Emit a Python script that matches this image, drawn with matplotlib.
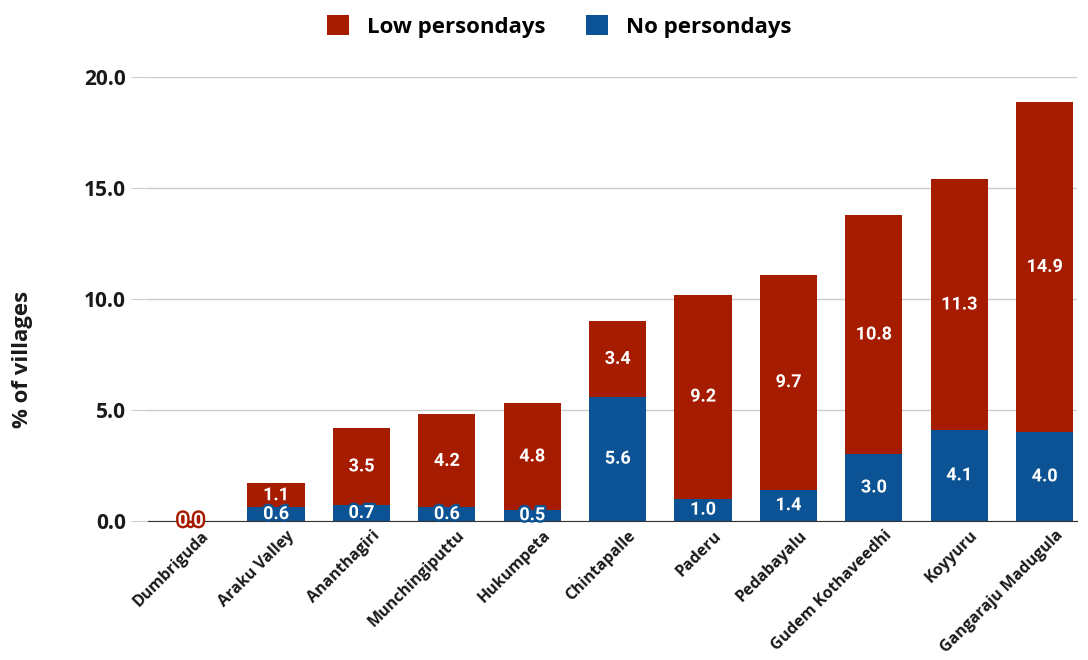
import matplotlib.pyplot as plt
import matplotlib.patheffects as pe
import numpy as np

mandals = ['Dumbriguda', 'Araku Valley', 'Ananthagiri', 'Munchingiputtu', 'Hukumpeta',
           'Chintapalle', 'Paderu', 'Pedabayalu', 'Gudem Kothaveedhi', 'Koyyuru',
           'Gangaraju Madugula']
no_persondays = [0.0, 0.6, 0.7, 0.6, 0.5, 5.6, 1.0, 1.4, 3.0, 4.1, 4.0]
low_persondays = [0.0, 1.1, 3.5, 4.2, 4.8, 3.4, 9.2, 9.7, 10.8, 11.3, 14.9]

red = '#A61C00'
blue = '#0B5394'
tick_font = 'Open Sans'
label_font = 'Roboto'

fig = plt.figure(figsize=(10.88, 6.6), dpi=100)
ax = fig.add_axes([0.136, 0.211, 0.854, 0.672])

x = np.arange(len(mandals))
w = 0.67
b1 = ax.bar(x, no_persondays, w, color=blue, label='No persondays', zorder=3)
b2 = ax.bar(x, low_persondays, w, bottom=no_persondays, color=red,
            label='Low persondays', zorder=3)

# labels in the middle of each segment
for i in range(len(x)):
    segs = [(no_persondays[i], 0, blue), (low_persondays[i], no_persondays[i], red)]
    for val, base, col in segs:
        if i == 0 and col == blue:
            continue
        y = base + val / 2
        ax.text(x[i], y, f'{val:.1f}', ha='center', va='center', color='white',
                fontsize=13, fontweight='bold', family=label_font, zorder=5,
                path_effects=[pe.withStroke(linewidth=3.5, foreground=col)])

ax.set_ylim(0, 20)
ax.set_xlim(-0.5, 10.38)
ax.set_yticks([0, 5, 10, 15, 20])
ax.set_yticklabels([f'{v:.1f}' for v in [0, 5, 10, 15, 20]],
                   fontsize=15, fontweight='bold', family=tick_font, color='#1a1a1a')
ax.set_xticks(x + 0.12)
ax.set_xticklabels(mandals, rotation=45, ha='right', rotation_mode='anchor',
                   fontsize=11.5, fontweight='bold', family=tick_font, color='#1a1a1a')
ax.tick_params(axis='y', length=12, color='#cccccc', pad=4)
ax.tick_params(axis='x', length=0, pad=5)
ax.grid(axis='y', color='#cccccc', linewidth=1, zorder=0)
for s in ['top', 'right', 'left']:
    ax.spines[s].set_visible(False)
ax.spines['bottom'].set_color('#333333')
ax.spines['bottom'].set_zorder(4)

ax.set_ylabel('% of villages', fontsize=16, fontweight='bold', family=tick_font,
              color='#1a1a1a')
ax.yaxis.set_label_coords(-0.124, 0.363)

handles = [b2, b1]
fig.legend(handles, ['Low persondays', 'No persondays'], loc='center',
           bbox_to_anchor=(0.514, 0.96), ncol=2, frameon=False,
           prop={'family': tick_font, 'weight': 'bold', 'size': 16},
           handlelength=1.0, handleheight=1.0, handletextpad=0.8, columnspacing=1.8)

fig.savefig('out.png', dpi=100)
